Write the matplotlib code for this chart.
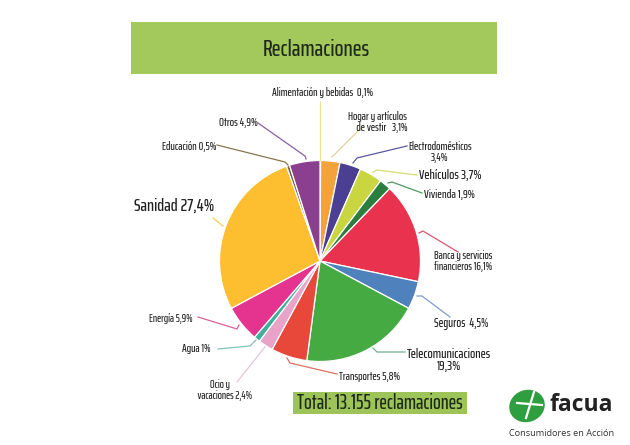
import matplotlib
matplotlib.use('Agg')
import matplotlib.pyplot as plt
from matplotlib.patches import Rectangle, Ellipse

sectores = ['Alimentación y bebidas', 'Hogar y artículos de vestir', 'Electrodomésticos', 'Vehículos',
            'Vivienda', 'Banca y servicios financieros', 'Seguros', 'Telecomunicaciones', 'Transportes',
            'Ocio y vacaciones', 'Agua', 'Energía', 'Sanidad', 'Educación', 'Otros']
valores = [0.1, 3.1, 3.4, 3.7, 1.9, 16.1, 4.5, 19.3, 5.8, 2.4, 1.0, 5.9, 27.4, 0.5, 4.9]
colores = ['#f4e04d', '#f4a23c', '#4a3f92', '#c9d63f', '#2a7f3f', '#e8324e', '#4f81bd', '#46aa42',
           '#e8483a', '#e9a3c9', '#3fae9a', '#e5348f', '#fdbf2f', '#7a5a3a', '#8a3f8f']
lineas = ['#e9e38a', '#e8cfa0', '#5a5aa0', '#d5dc70', '#4f9a60', '#d9566e', '#7f9fc9', '#6fb28a',
          '#e0705f', '#e3c6d8', '#7fc4b8', '#d9609f', '#f5cf60', '#8a7550', '#8a5fa0']

# recorrido de las guias en pixeles de la imagen
guias = [[(320, 102), (320, 160)],
         [(362, 127), (332, 157)],
         [(407, 146), (357, 158), (353, 163)],
         [(417, 175), (377, 170), (373, 172)],
         [(422, 193), (392, 182), (388, 183)],
         [(458, 252), (423, 231), (419, 233)],
         [(450, 317), (422, 296), (417, 296)],
         [(405, 352), (377, 352), (373, 348)],
         [(337, 374), (290, 363), (287, 358)],
         [(237, 382), (265, 347)],
         [(218, 349), (250, 346), (256, 340)],
         [(198, 317), (237, 329), (239, 325)],
         [(213, 218), (223, 226)],
         [(217, 145), (285, 162), (288, 165)],
         [(258, 123), (305, 156), (306, 159)]]

# texto, x, y, tamano, alineacion
rotulos = [('Alimentación y bebidas  0,1%', 323, 93, 8.3, 'center'),
           ('Hogar y artículos\n     de vestir   3,1%', 377, 122, 8.3, 'center'),
           ('Electrodomésticos\n3,4%', 440, 152, 8.4, 'center'),
           ('Vehículos 3,7%', 450, 175, 10.0, 'center'),
           ('Vivienda 1,9%', 449, 194, 8.8, 'center'),
           ('Banca y servicios\nfinancieros 16,1%', 434, 261, 8.2, 'left'),
           ('Seguros  4,5%', 434, 323, 9.0, 'left'),
           ('Telecomunicaciones\n19,3%', 449, 360, 10.0, 'center'),
           ('Transportes 5,8%', 370, 376, 8.3, 'center'),
           ('Ocio y\n      vacaciones 2,4%', 220, 390, 8.0, 'center'),
           ('Agua 1%', 182, 349, 8.2, 'left'),
           ('Energía 5,9%', 149, 318, 8.0, 'left'),
           ('Sanidad 27,4%', 134, 206, 13.0, 'left'),
           ('Educación 0,5%', 162, 146, 8.3, 'left'),
           ('Otros 4,9%', 219, 122, 8.4, 'left')]

W, H = 630, 445
fuente = ['Saira ExtraCondensed', 'DejaVu Sans']

fig = plt.figure(figsize=(W / 100, H / 100), dpi=100)
ax = fig.add_axes([0, 0, 1, 1])

ax.pie(valores, colors=colores, startangle=90, counterclock=False, center=(320, H - 261), radius=100.5,
       wedgeprops={'edgecolor': 'white', 'linewidth': 0.9})
ax.set_xlim(0, W)
ax.set_ylim(0, H)
ax.set_aspect('equal')
ax.axis('off')

for g, c in zip(guias, lineas):
    ax.plot([p[0] for p in g], [H - p[1] for p in g], color=c, lw=0.9, zorder=3)

for t, x, y, s, al in rotulos:
    ax.text(x, H - y, t, fontsize=s, ha=al, va='center', multialignment='center', family=fuente,
            weight=500, color='#222222', linespacing=0.9)

# cabecera
ax.add_patch(Rectangle((131, H - 74), 366, 52, facecolor='#a3c95c', edgecolor='none'))
ax.text(316, H - 49, 'Reclamaciones', fontsize=17, ha='center', va='center', family=fuente, weight=500,
        color='#1f2a1a')

# total
ax.add_patch(Rectangle((293, H - 414), 174, 22, facecolor='#9cc458', edgecolor='none'))
ax.text(380, H - 403, 'Total: 13.155 reclamaciones', fontsize=14.7, ha='center', va='center',
        family=fuente, weight=500, color='#1f2a1a')

# logo
ax.add_patch(Ellipse((527, H - 406), 36, 32, angle=20, facecolor='#2f9e3f', edgecolor='none', zorder=3))
ax.plot([517, 542], [H - 403, H - 405], color='white', lw=1.6, zorder=4)
ax.plot([526, 534], [H - 418, H - 392], color='white', lw=1.6, zorder=4)
ax.text(549, H - 405, 'facua', fontsize=16.5, ha='left', va='center', family='Open Sans', weight='bold',
        color='#222222')
ax.text(509, H - 434, 'Consumidores en Acción', fontsize=6.6, ha='left', va='center', family='Open Sans',
        color='#333333')

fig.savefig('out.png', dpi=100)
